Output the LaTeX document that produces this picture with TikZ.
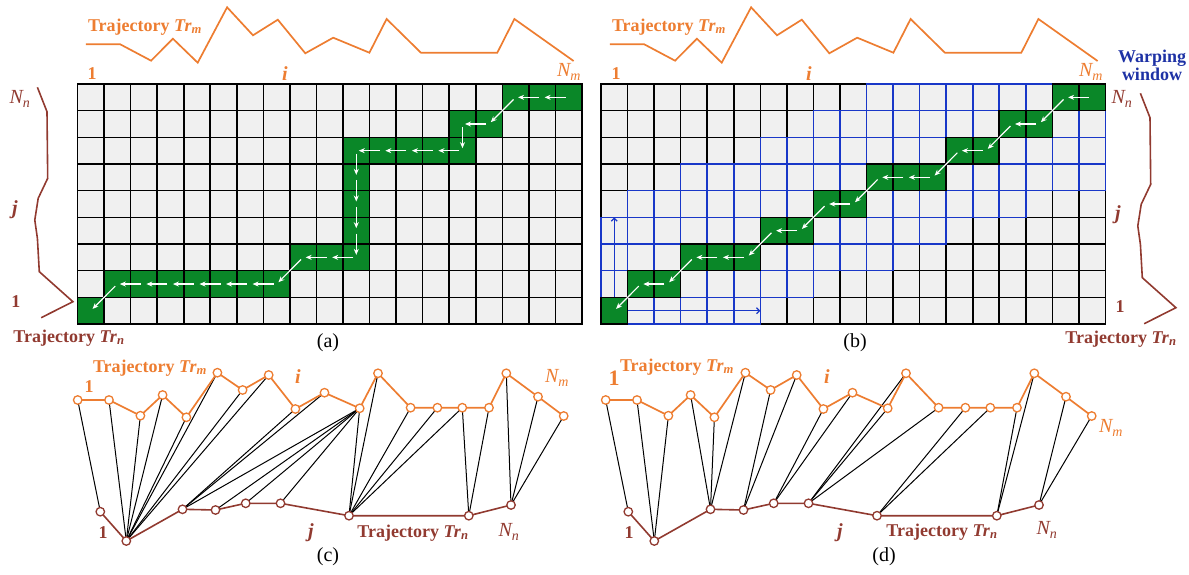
\documentclass[tikz,border=0pt]{standalone}
\usepackage{fontspec}
\setmainfont{Liberation Serif}
\usetikzlibrary{arrows.meta}
\definecolor{trorange}{RGB}{237,125,49}
\definecolor{trbrown}{RGB}{145,58,48}
\definecolor{winblue}{RGB}{25,55,200}
\definecolor{wintext}{RGB}{30,50,165}
\definecolor{pathgreen}{RGB}{10,135,40}
\definecolor{cellgray}{RGB}{240,240,240}
\newcommand{\gcell}[4]{\draw[#4] ({#1+(#2-1)*26.55},{84+(9-#3)*26.67}) rectangle ++(26.55,26.67);}
\newcommand{\gridlines}[1]{%
  \fill[cellgray] (#1,84) rectangle ++({19*26.55},{9*26.67});
  \foreach \i in {0,...,19}{\draw[gline] ({#1+\i*26.55},84) -- ++(0,{9*26.67});}
  \foreach \j in {0,...,9}{\draw[gline] (#1,{84+\j*26.67}) -- ++({19*26.55},0);}}
\begin{document}
\begin{tikzpicture}[x=1pt,y=-1pt,
  gline/.style={draw=black,line width=1.6pt,line cap=rect},
  greencell/.style={fill=pathgreen,draw=black,line width=1.6pt},
  wincell/.style={draw=winblue,line width=1.6pt},
  warr/.style={draw=white,line width=1.2pt,-{Stealth[length=6pt,width=5pt]},shorten <=3pt,shorten >=2.5pt},
  barr/.style={draw=winblue,line width=1.2pt,-{Straight Barb[length=3pt,width=6pt]}},
  otraj/.style={draw=trorange,line width=1.7pt,line join=miter},
  btraj/.style={draw=trbrown,line width=1.6pt,line join=miter},
  mnode/.style={circle,draw=trorange,fill=white,line width=1.3pt,minimum size=8.5pt,inner sep=0pt},
  nnode/.style={circle,draw=trbrown,fill=white,line width=1.3pt,minimum size=8.5pt,inner sep=0pt},
  link/.style={draw=black,line width=1pt},
  olab/.style={text=trorange,font=\fontsize{18}{18}\selectfont\bfseries,inner sep=0pt},
  blab/.style={text=trbrown,font=\fontsize{18}{18}\selectfont\bfseries,inner sep=0pt},
  oit/.style={text=trorange,font=\fontsize{20}{20}\selectfont\itshape,inner sep=0pt},
  bit/.style={text=trbrown,font=\fontsize{20}{20}\selectfont\itshape,inner sep=0pt},
  caplab/.style={font=\fontsize{20}{20}\selectfont,inner sep=0pt}]
\useasboundingbox (0,0) rectangle (1189,575);

% ---------- cell centres ----------
\foreach \i in {1,...,19}{\foreach \j in {1,...,9}{
  \coordinate (a-\i-\j) at ({77.5+(\i-0.5)*26.55},{84+(9.5-\j)*26.67});
  \coordinate (b-\i-\j) at ({601+(\i-0.5)*26.55},{84+(9.5-\j)*26.67});
}}

% ---------- grid (a) ----------
\gridlines{77.5}
\foreach \i/\j in {1/1,2/2,3/2,4/2,5/2,6/2,7/2,8/2,9/3,10/3,11/3,11/4,11/5,11/6,11/7,12/7,13/7,14/7,15/7,15/8,16/8,17/9,18/9,19/9}
  {\gcell{77.5}{\i}{\j}{greencell}}
\foreach \p/\q in {19-9/18-9,18-9/17-9,17-9/16-8,16-8/15-8,15-8/15-7,15-7/14-7,14-7/13-7,13-7/12-7,12-7/11-7,11-7/11-6,11-6/11-5,11-5/11-4,11-4/11-3,11-3/10-3,10-3/9-3,9-3/8-2,8-2/7-2,7-2/6-2,6-2/5-2,5-2/4-2,4-2/3-2,3-2/2-2,2-2/1-1}
  {\draw[warr] (a-\p) -- (a-\q);}

% ---------- grid (b) ----------
\gridlines{601}
\foreach \j/\s/\e in {1/1/6,2/1/8,3/1/11,4/1/13,5/2/16,6/4/19,7/7/19,8/9/19,9/11/19}
  {\foreach \i in {\s,...,\e}{\gcell{601}{\i}{\j}{wincell}}}
\foreach \i/\j in {1/1,2/2,3/2,4/3,5/3,6/3,7/4,8/4,9/5,10/5,11/6,12/6,13/6,14/7,15/7,16/8,17/8,18/9,19/9}
  {\gcell{601}{\i}{\j}{greencell}}
\foreach \p/\q in {19-9/18-9,18-9/17-8,17-8/16-8,16-8/15-7,15-7/14-7,14-7/13-6,13-6/12-6,12-6/11-6,11-6/10-5,10-5/9-5,9-5/8-4,8-4/7-4,7-4/6-3,6-3/5-3,5-3/4-3,4-3/3-2,3-2/2-2,2-2/1-1}
  {\draw[warr] (b-\p) -- (b-\q);}
\coordinate (wv1) at ({601+0.5*26.55},{84+8*26.67});
\coordinate (wv2) at ({601+0.5*26.55},{84+5*26.67});
\coordinate (wh1) at ({601+1*26.55},{84+8.5*26.67});
\coordinate (wh2) at ({601+6*26.55},{84+8.5*26.67});
\draw[barr] (wv1) -- (wv2);
\draw[barr] (wh1) -- (wh2);

% ---------- trajectory Tr_m above grids ----------
\foreach \dx/\nm in {0/ta,524/tb}{
  \draw[otraj] ({85.9+\dx},44.3) -- ({120.2+\dx},44.3) -- ({151.1+\dx},60.7) -- ({172.9+\dx},38.7) -- ({197.7+\dx},62.7) -- ({227.1+\dx},7.3) -- ({253+\dx},35.3) -- ({277.8+\dx},19.7) -- ({305.3+\dx},53.3) -- ({333.2+\dx},37.7) -- ({369.4+\dx},52.7) -- ({386.6+\dx},19) -- ({420.9+\dx},52.7) -- ({497.3+\dx},52.7) -- ({514.4+\dx},19) -- ({573.6+\dx},61);
  \node[olab] (\nm-lab) at ({145+\dx},27) {Trajectory \textit{Tr}\textsubscript{\textit{m}}};
  \node[olab] (\nm-one) at ({92+\dx},74) {1};
  \node[oit] (\nm-i) at ({285+\dx},74) {\bfseries i};
}
\node[oit] (ta-N) at (569,72) {N\textsubscript{m}};
\node[oit] (tb-N) at (1091,72) {N\textsubscript{m}};
\node[text=wintext,font=\fontsize{18}{18}\selectfont\bfseries,align=center,inner sep=0pt] (win) at (1152,65) {Warping\\window};

% ---------- trajectory Tr_n beside grids ----------
\draw[btraj] (37.4,87.3) -- (47,111.7) -- (47.7,178.3) -- (38.2,198.3) -- (34.8,220) -- (37.4,238.3) -- (39.3,271.7) -- (72.9,301.7) -- (41.2,317.7);
\draw[btraj] (1140.4,93.3) -- (1150,117.7) -- (1150.7,184.3) -- (1141.2,204.3) -- (1137.8,226) -- (1140.4,244.3) -- (1142.3,277.7) -- (1175.9,307.7) -- (1144.2,323.7);
\node[bit] (la-N) at (20,99) {N\textsubscript{n}};
\node[bit] (la-j) at (15,210) {\bfseries j};
\node[blab] (la-one) at (16,302) {1};
\node[blab] (la-lab) at (69,338) {Trajectory \textit{Tr}\textsubscript{\textit{n}}};
\node[bit] (lb-N) at (1122,99) {N\textsubscript{n}};
\node[bit] (lb-j) at (1118,215) {\bfseries j};
\node[blab] (lb-one) at (1120,307) {1};
\node[blab] (lb-lab) at (1121,339) {Trajectory \textit{Tr}\textsubscript{\textit{n}}};
\node[caplab] (capa) at (328,343) {(a)};
\node[caplab] (capb) at (855,343) {(b)};

% ---------- (c) and (d) ----------
\foreach \k/\x/\y in {1/77.7/400,2/109/400,3/140.4/415.7,4/162.6/395,5/186.4/417.3,6/217.4/372.7,7/242.6/390,8/268.7/375,9/295.4/409,10/324.5/392.7,11/359.7/408.3,12/378/373.3,13/410.6/407.7,14/437.4/407.7,15/462.3/407.7,16/489/407.7,17/506.3/373.3,18/538/396.7,19/563.7/416}{
  \coordinate (cm\k) at (\x,\y);
  \coordinate (dm\k) at ({\x+528},\y);
}
\foreach \k/\x/\y in {1/100.3/511.7,2/126.3/541,3/182.5/509.3,4/215.5/510,5/245.7/503.3,6/280.5/503.3,7/349/515.7,8/468.8/515.7,9/511/505}{
  \coordinate (cn\k) at (\x,\y);
  \coordinate (dn\k) at ({\x+528},\y);
}
\foreach \i/\j in {1/1,2/2,3/2,4/2,5/2,6/2,7/2,8/2,9/3,10/3,11/3,11/4,11/5,11/6,11/7,12/7,13/7,14/7,15/7,15/8,16/8,17/9,18/9,19/9}
  {\draw[link] (cm\i) -- (cn\j);}
\foreach \i/\j in {1/1,2/2,3/2,4/3,5/3,6/3,7/4,8/4,9/5,10/5,11/6,12/6,13/6,14/7,15/7,16/8,17/8,18/9,19/9}
  {\draw[link] (dm\i) -- (dn\j);}
\foreach \p in {c,d}{
  \draw[otraj] (\p m1) \foreach \k in {2,...,19}{ -- (\p m\k)};
  \draw[btraj] (\p n1) \foreach \k in {2,...,9}{ -- (\p n\k)};
  \foreach \k in {1,...,19}{\node[mnode] (\p mc\k) at (\p m\k) {};}
  \foreach \k in {1,...,9}{\node[nnode] (\p nc\k) at (\p n\k) {};}
}
% labels (c)
\node[olab] (lc-tm) at (150,368) {Trajectory \textit{Tr}\textsubscript{\textit{m}}};
\node[olab] (lc-one) at (89,387) {1};
\node[oit] (lc-i) at (298,377) {\bfseries i};
\node[oit] (lc-N) at (557,378) {N\textsubscript{m}};
\node[blab] (lc-onen) at (103,533) {1};
\node[bit] (lc-j) at (311,533) {\bfseries j};
\node[blab] (lc-tn) at (413,533) {Trajectory \textit{Tr}\textsubscript{\textit{n}}};
\node[bit] (lc-Nn) at (509,532) {N\textsubscript{n}};
\node[caplab] (capc) at (328,557) {(c)};
% labels (d)
\node[olab] (ld-tm) at (677,367) {Trajectory \textit{Tr}\textsubscript{\textit{m}}};
\node[text=trorange,font=\fontsize{22}{22}\selectfont\bfseries,inner sep=0pt] (ld-one) at (614,378) {1};
\node[oit] (ld-i) at (827,377) {\bfseries i};
\node[oit] (ld-N) at (1111,428) {N\textsubscript{m}};
\node[blab] (ld-onen) at (629,533) {1};
\node[bit] (ld-j) at (840,533) {\bfseries j};
\node[blab] (ld-tn) at (942,532) {Trajectory \textit{Tr}\textsubscript{\textit{n}}};
\node[bit] (ld-Nn) at (1047,530) {N\textsubscript{n}};
\node[caplab] (capd) at (884,557) {(d)};
\end{tikzpicture}
\end{document}
